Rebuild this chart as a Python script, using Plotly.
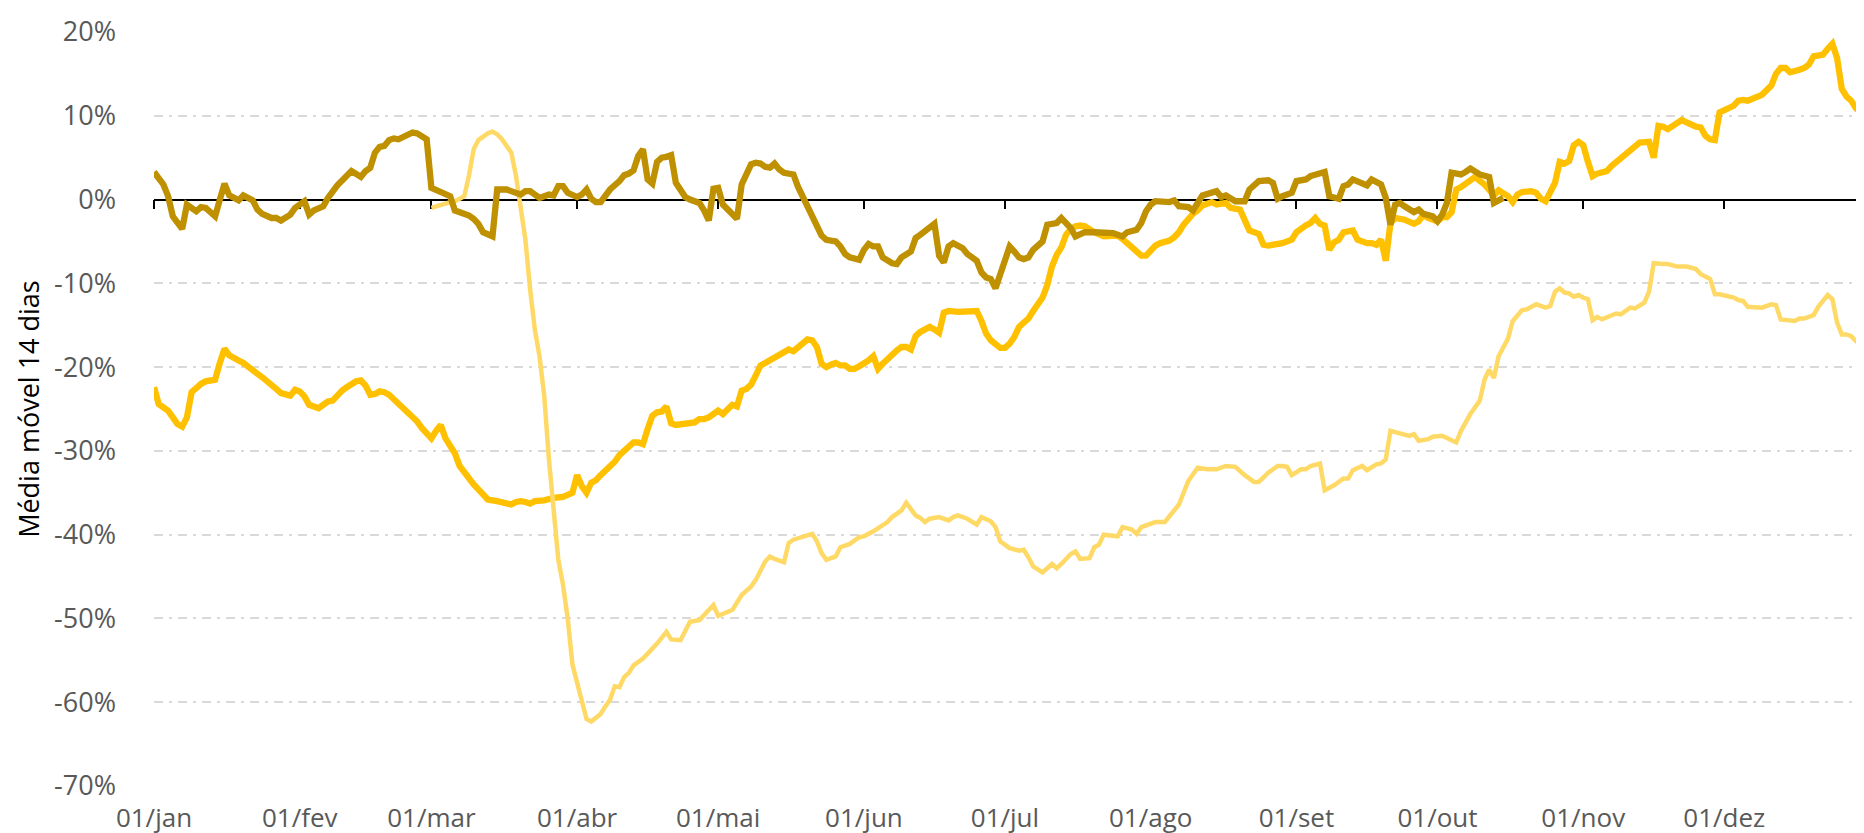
import pandas as pd
import plotly.graph_objects as go

# dias contados a partir de 01/jan e valores (%)
dias_escuro = [0, 2, 3, 4, 6, 7, 9, 10, 11, 13, 14, 15, 16, 17, 18, 19, 20, 21, 22, 23, 25, 26, 27, 29, 30,
               32, 33, 34, 36, 37, 39, 41, 42, 44, 45, 46, 47, 48, 49, 50, 51, 52, 53, 54, 55, 56, 57, 58,
               59, 61, 63, 64, 65, 67, 68, 69, 70, 71, 72, 73, 75, 77, 78, 79, 80, 81, 82, 84, 85, 86, 87,
               88, 89, 90, 91, 92, 93, 94, 95, 96, 97, 99, 100, 101, 102, 103, 104, 105, 106, 107, 108,
               109, 110, 111, 112, 113, 114, 116, 117, 118, 119, 120, 121, 122, 123, 124, 125, 126, 127,
               128, 129, 130, 131, 132, 133, 134, 135, 136, 137, 139, 141, 142, 143, 144, 145, 146, 147,
               148, 150, 151, 152, 153, 154, 155, 157, 158, 159, 161, 162, 163, 165, 166, 167, 168, 169,
               170, 172, 173, 175, 176, 177, 178, 179, 181, 182, 183, 184, 185, 186, 187, 189, 190, 192,
               193, 195, 196, 198, 200, 202, 204, 206, 207, 209, 210, 211, 212, 213, 215, 216, 217, 218,
               220, 221, 222, 223, 226, 227, 228, 230, 232, 233, 235, 237, 238, 239, 240, 242, 243, 245,
               246, 247, 248, 249, 250, 251, 252, 253, 254, 255, 257, 258, 259, 261, 262, 263, 264, 265,
               266, 268, 269, 270, 272, 273, 274, 275, 276, 278, 279, 280, 282, 283, 284, 285, 286, 287]
escuro = [3.3, 1.8, 0.4, -2.0, -3.5, -0.6, -1.4, -0.9, -1.0, -2.0, 0.0, 1.9, 0.5, 0.1, -0.1, 0.5, 0.1, -0.1,
          -1.2, -1.7, -2.2, -2.2, -2.5, -1.8, -1.0, -0.2, -1.8, -1.3, -0.8, 0.2, 1.7, 2.7, 3.4, 2.7, 3.4,
          3.8, 5.6, 6.3, 6.4, 7.1, 7.3, 7.2, 7.5, 7.7, 8.0, 7.9, 7.5, 7.2, 1.4, 0.8, 0.4, -1.3, -1.5, -1.9,
          -2.3, -2.9, -3.9, -4.2, -4.4, 1.2, 1.2, 0.8, 0.6, 1.0, 1.0, 0.6, 0.2, 0.6, 0.5, 1.6, 1.6, 0.8,
          0.6, 0.3, 0.6, 1.2, 0.1, -0.3, -0.3, 0.5, 1.2, 2.2, 2.9, 3.1, 3.5, 5.2, 6.0, 2.4, 1.9, 4.5, 5.0,
          5.1, 5.3, 2.0, 1.0, 0.3, 0.0, -0.4, -1.3, -2.5, 1.3, 1.4, -0.6, -1.2, -1.7, -2.3, 1.8, 3.0, 4.2,
          4.4, 4.3, 3.9, 3.8, 4.3, 3.6, 3.2, 3.1, 3.0, 1.5, -0.8, -2.8, -4.3, -4.8, -4.9, -5.0, -5.6, -6.5,
          -6.9, -7.2, -6.0, -5.3, -5.6, -5.6, -6.9, -7.6, -7.7, -6.9, -6.2, -4.6, -4.2, -3.4, -2.9, -6.7,
          -7.5, -5.6, -5.2, -5.8, -6.5, -7.3, -8.7, -9.3, -9.5, -10.6, -7.0, -5.6, -6.2, -6.9, -7.1, -6.9,
          -6.0, -5.0, -3.0, -2.8, -2.2, -3.4, -4.4, -3.9, -3.9, -3.9, -4.0, -4.4, -3.9, -3.6, -2.8, -1.4,
          -0.6, -0.2, -0.3, -0.3, -0.1, -0.8, -0.9, -1.3, -0.4, 0.5, 1.0, 0.3, 0.5, -0.2, -0.2, 1.2, 2.2,
          2.3, 2.0, 0.1, 0.4, 0.8, 2.2, 2.4, 2.8, 3.0, 3.2, 3.3, 0.4, 0.3, 0.1, 1.6, 1.8, 2.4, 1.8, 1.7,
          2.4, 1.8, 0.2, -3.0, -0.6, -0.4, -0.8, -1.5, -1.2, -1.7, -2.0, -2.6, -1.8, -0.4, 3.2, 3.0, 3.3,
          3.7, 3.0, 2.8, 2.7, -0.4, 0.0, 0.2]

dias_ouro = [0, 1, 2, 3, 4, 5, 6, 7, 8, 9, 10, 11, 12, 13, 14, 15, 16, 17, 18, 19, 20, 21, 22, 23, 24, 25,
             26, 27, 28, 29, 30, 31, 32, 33, 34, 35, 36, 37, 38, 39, 40, 41, 42, 43, 44, 45, 46, 47, 48, 49,
             50, 51, 52, 53, 54, 55, 56, 57, 58, 59, 60, 61, 62, 63, 64, 65, 66, 67, 68, 69, 70, 71, 73,
             75, 76, 77, 78, 79, 80, 81, 83, 85, 87, 89, 90, 91, 92, 93, 94, 95, 96, 97, 98, 99, 100, 101,
             102, 103, 104, 105, 106, 107, 108, 109, 110, 111, 112, 113, 114, 115, 116, 117, 118, 119, 120,
             121, 122, 123, 124, 125, 126, 127, 128, 129, 130, 131, 132, 133, 134, 135, 136, 137, 138, 139,
             140, 141, 142, 143, 144, 145, 146, 147, 148, 149, 150, 151, 152, 153, 154, 155, 156, 157, 158,
             159, 160, 161, 162, 163, 164, 165, 166, 167, 168, 169, 171, 173, 174, 175, 176, 177, 178, 179,
             180, 181, 182, 183, 184, 185, 186, 187, 188, 189, 190, 191, 192, 193, 194, 195, 196, 197, 198,
             199, 200, 202, 204, 205, 206, 207, 208, 209, 210, 211, 212, 213, 214, 215, 216, 217, 218, 219,
             220, 221, 222, 223, 225, 226, 228, 229, 231, 232, 233, 235, 236, 237, 239, 240, 242, 243, 245,
             246, 247, 248, 249, 250, 251, 252, 253, 255, 256, 258, 259, 260, 261, 262, 263, 264, 266, 268,
             269, 270, 271, 272, 273, 274, 275, 276, 277, 278, 280, 281, 283, 284, 285, 286, 288, 289, 290,
             291, 293, 294, 295, 296, 297, 298, 299, 300, 301, 302, 303, 304, 305, 306, 307, 309, 310, 311,
             312, 313, 315, 316, 318, 319, 320, 321, 322, 323, 325, 326, 327, 328, 329, 330, 331, 332, 333,
             334, 336, 337, 338, 339, 340, 342, 344, 345, 346, 347, 348, 349, 350, 351, 352, 353, 355, 356,
             357, 358, 359, 360, 361, 362, 363, 364]
ouro = [-22.4, -24.4, -24.8, -25.2, -26.0, -26.8, -27.1, -26.0, -23.0, -22.4, -22.0, -21.7, -21.6, -21.5,
        -19.5, -17.8, -18.6, -19.0, -19.2, -19.5, -20.0, -20.4, -20.8, -21.2, -21.6, -22.0, -22.6, -23.1,
        -23.3, -23.4, -22.7, -22.9, -23.5, -24.5, -24.7, -24.9, -24.5, -24.1, -24.0, -23.3, -22.8, -22.4,
        -22.0, -21.7, -21.6, -22.2, -23.3, -23.2, -22.9, -23.0, -23.3, -23.8, -24.4, -25.0, -25.4, -25.8,
        -26.5, -27.3, -28.0, -28.5, -27.6, -26.9, -28.5, -29.4, -30.3, -31.8, -32.6, -33.4, -34.0, -34.6,
        -35.2, -35.8, -36.0, -36.2, -36.4, -36.1, -36.0, -36.1, -36.3, -36.0, -35.9, -35.6, -35.5, -35.0,
        -32.9, -34.2, -35.0, -33.8, -33.5, -32.9, -32.4, -31.8, -31.3, -30.5, -30.0, -29.6, -29.0, -29.0,
        -29.2, -27.4, -25.8, -25.4, -25.3, -24.7, -26.7, -26.9, -26.8, -26.8, -26.7, -26.6, -26.2, -26.2,
        -26.0, -25.5, -25.2, -25.6, -25.0, -24.5, -24.7, -22.8, -22.6, -22.1, -21.0, -19.8, -19.5, -19.2,
        -18.8, -18.7, -18.3, -17.9, -18.1, -17.7, -17.1, -16.7, -16.8, -17.6, -19.6, -20.0, -19.7, -19.5,
        -19.8, -19.8, -20.2, -20.2, -19.9, -19.6, -19.2, -18.7, -20.2, -19.6, -19.0, -18.6, -18.0, -17.6,
        -17.6, -17.9, -16.3, -15.8, -15.4, -15.2, -15.5, -15.9, -13.5, -13.3, -13.4, -13.4, -13.4, -13.3,
        -14.5, -16.0, -16.8, -17.3, -17.7, -17.7, -17.2, -16.4, -15.2, -14.7, -14.2, -13.3, -12.5, -11.7,
        -10.2, -8.0, -6.6, -5.7, -4.2, -3.5, -3.2, -3.1, -3.2, -3.6, -3.9, -4.4, -4.4, -4.3, -4.7, -5.2,
        -5.9, -6.4, -6.7, -6.7, -6.0, -5.5, -5.2, -5.1, -4.9, -4.5, -3.9, -3.0, -2.3, -1.7, -1.3, -0.7,
        -0.3, -0.6, -0.4, -1.0, -1.2, -2.6, -3.7, -4.1, -5.4, -5.5, -5.4, -5.2, -4.8, -3.9, -3.1, -2.8,
        -2.2, -2.9, -3.1, -6.0, -5.1, -4.8, -3.9, -3.7, -4.8, -5.2, -5.2, -5.4, -4.8, -7.3, -2.8, -2.2,
        -2.4, -2.9, -2.6, -1.8, -2.2, -2.4, -2.6, -2.1, -2.1, -1.5, 1.2, 1.5, 2.2, 2.7, 1.8, 1.0, 0.5,
        1.1, 0.4, -0.3, 0.6, 0.9, 1.0, 0.8, 0.1, -0.2, 1.0, 2.0, 4.5, 4.3, 4.6, 6.5, 6.9, 6.5, 4.5, 2.8,
        3.1, 3.4, 4.0, 4.5, 4.8, 5.5, 6.3, 6.8, 6.9, 5.0, 8.8, 8.7, 8.4, 8.8, 9.5, 9.2, 8.9, 8.7, 8.6,
        7.6, 7.2, 7.1, 10.4, 10.6, 11.2, 11.8, 11.9, 11.8, 12.1, 12.5, 13.6, 15.0, 15.7, 15.7, 15.2, 15.3,
        15.5, 15.7, 16.1, 17.1, 17.3, 18.0, 18.6, 16.9, 13.2, 12.3, 11.8, 10.9, 10.4, 7.8]

dias_claro = [59, 61, 63, 64, 66, 67, 68, 69, 71, 72, 73, 74, 75, 76, 77, 78, 79, 80, 81, 82, 83, 84, 85,
              86, 87, 88, 89, 90, 91, 92, 93, 94, 95, 96, 97, 98, 99, 100, 101, 102, 104, 105, 107, 109,
              110, 112, 114, 116, 117, 119, 120, 123, 125, 127, 128, 130, 131, 132, 134, 135, 136, 138,
              140, 141, 142, 143, 145, 146, 148, 150, 151, 153, 155, 156, 157, 159, 160, 162, 163, 164,
              165, 167, 169, 170, 171, 173, 175, 176, 178, 179, 180, 182, 184, 185, 186, 187, 189, 191,
              192, 193, 195, 196, 197, 199, 200, 201, 202, 205, 206, 208, 209, 210, 213, 215, 216, 218,
              219, 220, 222, 224, 226, 228, 230, 232, 234, 235, 237, 239, 240, 241, 242, 244, 245, 246,
              248, 249, 251, 253, 254, 255, 257, 258, 260, 261, 262, 263, 265, 267, 268, 269, 271, 272,
              274, 277, 278, 280, 282, 283, 284, 285, 286, 287, 288, 289, 291, 292, 294, 296, 297, 298,
              299, 300, 301, 302, 303, 304, 305, 306, 307, 308, 310, 311, 312, 314, 315, 316, 317, 318,
              319, 321, 322, 324, 325, 326, 328, 329, 331, 332, 333, 335, 336, 337, 338, 339, 341, 342,
              344, 345, 346, 347, 349, 350, 351, 353, 354, 355, 356, 357, 358, 359, 360, 361, 362, 363, 364]
claro = [-1.0, -0.6, -0.3, -0.2, 0.4, 2.9, 6.0, 7.1, 7.9, 8.1, 7.8, 7.2, 6.3, 5.6, 2.8, -1.2, -4.8, -10.7,
         -15.5, -18.7, -23.4, -31.0, -37.1, -43.0, -46.0, -50.0, -55.5, -57.8, -60.2, -62.0, -62.3, -61.9,
         -61.4, -60.5, -59.7, -58.1, -58.2, -57.0, -56.5, -55.6, -54.8, -54.2, -53.0, -51.6, -52.5, -52.6,
         -50.4, -50.2, -49.6, -48.4, -49.7, -49.0, -47.2, -46.2, -45.4, -43.2, -42.6, -42.9, -43.3, -41.0,
         -40.6, -40.2, -39.9, -40.8, -42.2, -43.0, -42.6, -41.5, -41.1, -40.3, -40.2, -39.6, -38.8, -38.5,
         -37.9, -37.1, -36.2, -37.7, -38.0, -38.5, -38.1, -37.9, -38.3, -37.9, -37.7, -38.1, -38.8, -37.9,
         -38.4, -39.1, -40.8, -41.6, -41.9, -41.8, -42.7, -43.8, -44.5, -43.5, -44.0, -43.5, -42.3, -42.0,
         -42.9, -42.8, -41.5, -41.2, -40.0, -40.2, -39.1, -39.4, -39.9, -39.1, -38.5, -38.5, -37.8, -36.4,
         -35.0, -33.6, -32.0, -32.2, -32.2, -31.8, -31.9, -32.9, -33.7, -33.7, -32.6, -31.8, -31.8, -31.9,
         -32.9, -32.2, -32.2, -31.8, -31.5, -34.7, -34.1, -33.3, -33.3, -32.3, -31.8, -32.3, -31.6, -31.5,
         -31.0, -27.6, -27.9, -28.2, -28.0, -28.8, -28.6, -28.3, -28.2, -29.0, -27.6, -25.6, -24.0, -21.5,
         -20.3, -21.3, -18.7, -17.7, -16.6, -14.5, -13.2, -13.1, -12.5, -12.9, -12.7, -11.0, -10.6, -11.1,
         -11.2, -11.6, -11.4, -11.7, -11.9, -14.4, -14.0, -14.3, -13.9, -13.6, -13.7, -12.9, -13.0, -12.7,
         -12.3, -11.0, -7.6, -7.7, -7.7, -8.0, -8.0, -8.0, -8.3, -8.9, -9.5, -11.3, -11.3, -11.5, -11.7,
         -12.0, -12.1, -12.8, -12.8, -12.9, -12.5, -12.6, -14.3, -14.4, -14.5, -14.2, -14.2, -13.8, -12.8,
         -12.1, -11.4, -11.9, -14.7, -16.1, -16.1, -16.3, -16.9, -17.3, -18.5]

meses = ["01/jan", "01/fev", "01/mar", "01/abr", "01/mai", "01/jun",
         "01/jul", "01/ago", "01/set", "01/out", "01/nov", "01/dez"]
niveis = [-70, -60, -50, -40, -30, -20, -10, 0, 10, 20]
rotulos_y = ["-70%", "-60%", "-50%", "-40%", "-30%", "-20%", "-10%", "0%", "10%", "20%"]

inicio = pd.Timestamp("2021-01-01")
fim = pd.Timestamp("2022-01-01")


def datas(dias):
    return inicio + pd.to_timedelta(dias, unit="D")


fig = go.Figure()

fig.add_trace(go.Scatter(x=datas(dias_ouro), y=ouro, mode="lines",
                         line=dict(color="#FFC000", width=6.3), showlegend=False))
fig.add_trace(go.Scatter(x=datas(dias_claro), y=claro, mode="lines",
                         line=dict(color="#FFD966", width=4.5), showlegend=False))
# série escura no eixo sobreposto (o eixo que desenha a linha do zero)
fig.add_trace(go.Scatter(x=datas(dias_escuro), y=escuro, mode="lines", xaxis="x2",
                         line=dict(color="#BF9000", width=6.3), showlegend=False))

fonte = "Open Sans, Liberation Sans, sans-serif"

fig.update_layout(
    width=1864, height=833,
    margin=dict(l=146, r=2, t=24, b=55),
    paper_bgcolor="white", plot_bgcolor="white",
    font=dict(family=fonte, size=27, color="#595959"),
    xaxis=dict(
        range=[inicio, fim],
        tickvals=pd.date_range(inicio, periods=12, freq="MS"),
        ticktext=meses,
        showgrid=False, zeroline=False, showline=False, ticks="",
        ticklabelstandoff=14,
        tickfont=dict(size=26, color="#595959"),
    ),
    xaxis2=dict(
        overlaying="x", anchor="free", position=70 / 90, side="bottom",
        range=[inicio, fim], matches="x",
        dtick="M1", tick0=inicio,
        showline=True, linecolor="black", linewidth=1.6,
        ticks="outside", ticklen=9, tickwidth=1.6, tickcolor="black",
        showticklabels=False, showgrid=False, zeroline=False,
        layer="below traces",
    ),
    yaxis=dict(
        range=[-70, 20], tickvals=niveis, ticktext=rotulos_y,
        showgrid=True, gridcolor="#D9D9D9", gridwidth=1.5, griddash="9px,6px,3px,6px",
        zeroline=False, showline=False, ticks="",
        ticklabelstandoff=37,
        tickfont=dict(size=27, color="#595959"),
    ),
)

# título do eixo y como anotação, para ficar encostado à margem esquerda
fig.add_annotation(text="Média móvel 14 dias", textangle=-90,
                   xref="paper", yref="paper", x=-0.0735, y=0.5,
                   xanchor="center", yanchor="middle", showarrow=False,
                   font=dict(family=fonte, size=27, color="black"))

fig.write_html("out.html")
